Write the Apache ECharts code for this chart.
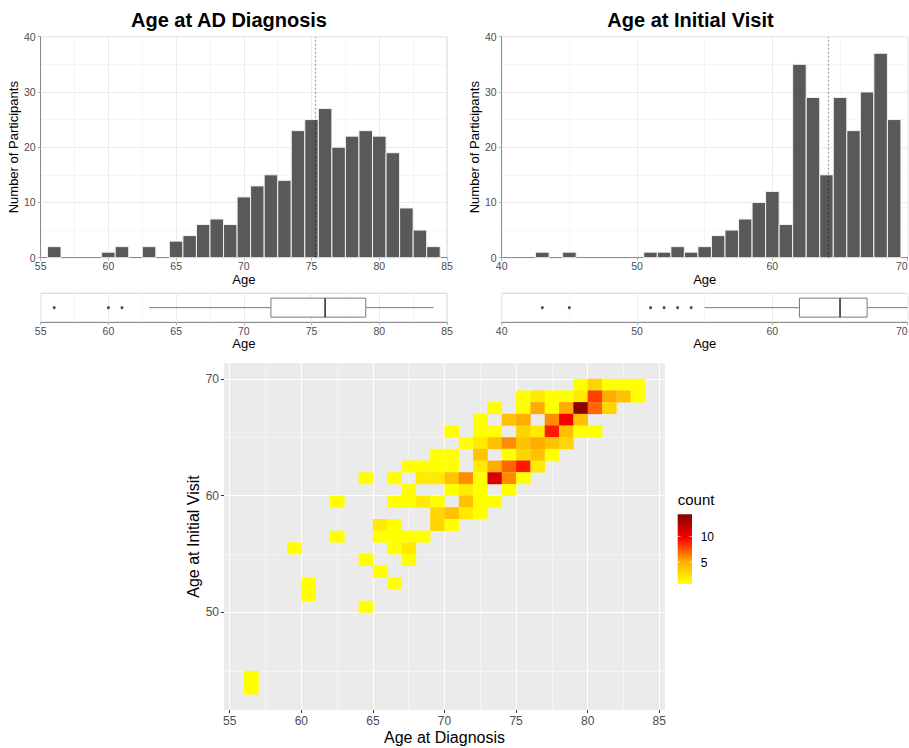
<!DOCTYPE html>
<html>
<head>
<meta charset="utf-8">
<script src="https://cdn.jsdelivr.net/npm/echarts@6/dist/echarts.min.js"></script>
<style>
  html, body { margin: 0; padding: 0; background: #ffffff; }
  #chart { width: 909px; height: 748px; }
</style>
</head>
<body>
<div id="chart"></div>
<script>
// ---- Age at AD diagnosis: 1-year histogram bins (bin centre) ----
const diagAges   = [56, 57, 58, 59, 60, 61, 62, 63, 64, 65, 66, 67, 68, 69, 70,
                    71, 72, 73, 74, 75, 76, 77, 78, 79, 80, 81, 82, 83, 84];
const diagCounts = [2, 0, 0, 0, 1, 2, 0, 2, 0, 3, 4, 6, 7, 6, 11,
                    13, 15, 14, 23, 25, 27, 20, 22, 23, 22, 19, 9, 5, 2];
const diagMean = 75.26;
const diagBox = [63, 72, 76, 79, 84];          // whisker low, Q1, median, Q3, whisker high
const diagOutliers = [56, 60, 61];

// ---- Age at initial visit ----
const visitAges   = [43, 44, 45, 46, 47, 48, 49, 50, 51, 52, 53, 54, 55, 56,
                     57, 58, 59, 60, 61, 62, 63, 64, 65, 66, 67, 68, 69];
const visitCounts = [1, 0, 1, 0, 0, 0, 0, 0, 1, 1, 2, 1, 2, 4,
                     5, 7, 10, 12, 6, 35, 29, 15, 29, 23, 30, 37, 25];
const visitMean = 64.15;
const visitBox = [55, 62, 65, 67, 70];
const visitOutliers = [43, 45, 51, 52, 53, 54];

// ---- 2-D bins: lower edge of diagnosis bin, lower edge of visit bin, count ----
const tileDiag  = [79, 80, 81, 82, 83,
                   75, 76, 77, 78, 79, 80, 81, 82, 83,
                   73, 75, 76, 77, 78, 79, 80, 81,
                   72, 74, 75, 77, 78, 79,
                   70, 72, 73, 75, 76, 77, 78, 79, 80,
                   71, 72, 73, 74, 75, 76, 77, 78,
                   69, 70, 72, 74, 75, 76, 77,
                   67, 68, 69, 70, 72, 73, 74, 75, 76,
                   64, 66, 68, 69, 70, 71, 72, 73, 74, 75,
                   67, 70, 71, 72, 74,
                   62, 66, 67, 68, 69, 71, 72, 73,
                   69, 70, 71, 72,
                   65, 66, 69, 70,
                   62, 65, 66, 67, 68,
                   59, 66, 67,
                   64, 67,
                   65,
                   60, 66,
                   60,
                   64,
                   56,
                   56];
const tileVisit = [69, 69, 69, 69, 69,
                   68, 68, 68, 68, 68, 68, 68, 68, 68,
                   67, 67, 67, 67, 67, 67, 67, 67,
                   66, 66, 66, 66, 66, 66,
                   65, 65, 65, 65, 65, 65, 65, 65, 65,
                   64, 64, 64, 64, 64, 64, 64, 64,
                   63, 63, 63, 63, 63, 63, 63,
                   62, 62, 62, 62, 62, 62, 62, 62, 62,
                   61, 61, 61, 61, 61, 61, 61, 61, 61, 61,
                   60, 60, 60, 60, 60,
                   59, 59, 59, 59, 59, 59, 59, 59,
                   58, 58, 58, 58,
                   57, 57, 57, 57,
                   56, 56, 56, 56, 56,
                   55, 55, 55,
                   54, 54,
                   53,
                   52, 52,
                   51,
                   50,
                   44,
                   43];
const tileCount = [1, 3, 1, 1, 1,
                   1, 2, 1, 1, 2, 8, 5, 4, 1,
                   1, 1, 5, 1, 5, 14, 7, 3,
                   1, 4, 5, 6, 10, 4,
                   1, 1, 1, 3, 2, 9, 4, 1, 1,
                   1, 2, 4, 6, 4, 5, 4, 3,
                   1, 1, 4, 1, 3, 4, 1,
                   1, 1, 1, 1, 2, 5, 7, 9, 2,
                   1, 1, 2, 2, 4, 6, 1, 11, 6, 1,
                   1, 1, 2, 1, 1,
                   1, 1, 1, 2, 1, 4, 1, 1,
                   3, 4, 2, 1,
                   2, 1, 3, 1,
                   1, 1, 1, 1, 1,
                   1, 1, 2,
                   1, 1,
                   1,
                   1, 1,
                   1,
                   1,
                   1,
                   1];
const binWidth = 1;

// colour scale for counts
const countRange = [1, 14];
const countTicks = [5, 10];
const heatColors = ['#FFFF00', '#FFA500', '#FF0000', '#8B0000'];

// tick values
const diagTicks  = [55, 60, 65, 70, 75, 80, 85];
const visitTicks = [50, 60, 70];
const diagMinor  = [57.5, 62.5, 67.5, 72.5, 77.5, 82.5];
const visitMinor = [45, 55, 65];

const FONT = '"Liberation Sans", Arial, Helvetica, sans-serif';
const chart = echarts.init(document.getElementById('chart'), null, { renderer: 'svg' });

function histItem(params, api) {
  const x = api.value(0), n = api.value(1);
  if (!n) return null;
  const a = api.coord([x - 0.5, n]);
  const b = api.coord([x + 0.5, 0]);
  return {
    type: 'rect',
    shape: { x: a[0], y: a[1], width: b[0] - a[0], height: b[1] - a[1] },
    style: { fill: '#595959', stroke: '#F2F2F2', lineWidth: 1 }
  };
}

const BOX_HALF = 9.5;
function boxItem(params, api) {
  const lo = api.coord([api.value(0), 0]);
  const q1 = api.coord([api.value(1), 0]);
  const md = api.coord([api.value(2), 0]);
  const q3 = api.coord([api.value(3), 0]);
  const hi = api.coord([api.value(4), 0]);
  const cy = lo[1];
  const st = { stroke: '#7A7A7A', lineWidth: 1, fill: null };
  return {
    type: 'group',
    children: [
      { type: 'line', shape: { x1: lo[0], y1: cy, x2: q1[0], y2: cy }, style: st },
      { type: 'line', shape: { x1: q3[0], y1: cy, x2: hi[0], y2: cy }, style: st },
      { type: 'rect', shape: { x: q1[0], y: cy - BOX_HALF, width: q3[0] - q1[0], height: 2 * BOX_HALF },
        style: { fill: '#FFFFFF', stroke: '#7A7A7A', lineWidth: 1 } },
      { type: 'line', shape: { x1: md[0], y1: cy - BOX_HALF, x2: md[0], y2: cy + BOX_HALF },
        style: { stroke: '#333333', lineWidth: 1.6 } }
    ]
  };
}

function tileItem(params, api) {
  const x = api.value(0), y = api.value(1);
  const a = api.coord([x, y + binWidth]);
  const b = api.coord([x + binWidth, y]);
  return {
    type: 'rect',
    shape: { x: a[0], y: a[1], width: b[0] - a[0] + 0.3, height: b[1] - a[1] + 0.3 },
    style: { fill: api.visual('color') }
  };
}

function zip(a, b) { return a.map((v, i) => [v, b[i]]); }

const tickLabel = { color: '#4D4D4D', fontSize: 10.5, fontFamily: FONT };
const lightGrid = { lineStyle: { color: '#EBEBEB', width: 1 } };
const minorGrid = { show: true, lineStyle: { color: '#F5F5F5', width: 1 } };
const axisLineDark = { show: true, onZero: false, lineStyle: { color: '#8C8C8C', width: 1 } };
const tickStyle = { show: true, length: 3, lineStyle: { color: '#B3B3B3' } };
const nameStyle = { color: '#000000', fontSize: 13, fontFamily: FONT };

// the visit panels reach the right edge of the page, so their last label is right-aligned
function histX(gridIndex, min, max, interval, gap, alignLast) {
  const label = Object.assign({ margin: 3, hideOverlap: false }, tickLabel);
  if (alignLast) label.alignMaxLabel = 'right';
  return {
    gridIndex, type: 'value', min, max, interval,
    axisLine: axisLineDark, axisTick: tickStyle,
    axisLabel: label,
    splitLine: Object.assign({ show: true }, lightGrid),
    minorTick: { show: false, splitNumber: 2 }, minorSplitLine: minorGrid,
    name: 'Age', nameLocation: 'middle', nameGap: gap, nameTextStyle: nameStyle
  };
}
function histY(gridIndex) {
  return {
    gridIndex, type: 'value', min: 0, max: 40, interval: 10,
    axisLine: axisLineDark, axisTick: tickStyle,
    axisLabel: Object.assign({ margin: 5 }, tickLabel),
    splitLine: Object.assign({ show: true }, lightGrid),
    minorTick: { show: false, splitNumber: 2 }, minorSplitLine: minorGrid,
    name: 'Number of Participants', nameLocation: 'middle', nameGap: 17, nameRotate: 90,
    nameTextStyle: nameStyle
  };
}
function boxY(gridIndex) {
  return { gridIndex, type: 'value', min: -1, max: 1, show: false, splitLine: { show: false } };
}
function meanLine(v) {
  return {
    silent: true, symbol: 'none', label: { show: false },
    lineStyle: { color: 'rgba(0,0,0,0.38)', type: [2, 2], width: 1.2 },
    data: [{ xAxis: v }]
  };
}

const heatGridLines = [].concat(
  diagTicks.map(v => ({ xAxis: v, lineStyle: { color: '#FFFFFF', width: 1.1, type: 'solid' } })),
  diagMinor.map(v => ({ xAxis: v, lineStyle: { color: '#F6F6F6', width: 0.7, type: 'solid' } })),
  visitTicks.map(v => ({ yAxis: v, lineStyle: { color: '#FFFFFF', width: 1.1, type: 'solid' } })),
  visitMinor.map(v => ({ yAxis: v, lineStyle: { color: '#F6F6F6', width: 0.7, type: 'solid' } }))
);

// colour bar geometry
const barX = 677.7, barTop = 514.3, barBottom = 584, barW = 14.3, barPad = 1.7;
function barY(v) {
  return barBottom - barPad - (v - countRange[0]) / (countRange[1] - countRange[0]) * (barBottom - barTop - 2 * barPad);
}
const barStops = heatColors.map((c, i) => {
  const v = countRange[0] + i / (heatColors.length - 1) * (countRange[1] - countRange[0]);
  return { offset: (barBottom - barY(v)) / (barBottom - barTop), color: c };
});

const legendGraphics = [
  { type: 'text', x: barX, y: 499, style: { text: 'count', font: '15px ' + FONT, fill: '#000', verticalAlign: 'middle', align: 'left' } },
  { type: 'rect', shape: { x: barX, y: barTop, width: barW, height: barBottom - barTop },
    style: { fill: new echarts.graphic.LinearGradient(0, 1, 0, 0, barStops) } }
];
countTicks.forEach(v => {
  const y = barY(v);
  legendGraphics.push(
    { type: 'line', shape: { x1: barX, y1: y, x2: barX + 2.8, y2: y }, style: { stroke: '#FFFFFF', lineWidth: 0.8, opacity: 0.8 } },
    { type: 'line', shape: { x1: barX + barW - 2.8, y1: y, x2: barX + barW, y2: y }, style: { stroke: '#FFFFFF', lineWidth: 0.8, opacity: 0.8 } },
    { type: 'text', x: 700.7, y: y + 0.8, style: { text: String(v), font: '12px ' + FONT, fill: '#000', verticalAlign: 'middle', align: 'left' } }
  );
});

const gridBase = { show: true, borderColor: '#D3D3D3', borderWidth: 1, backgroundColor: 'transparent',
                   containLabel: false, outerBoundsMode: 'none' };

const option = {
  backgroundColor: '#FFFFFF',
  animation: false,
  textStyle: { fontFamily: FONT },
  graphic: [
    { type: 'text', x: 229, y: 19.5, style: { text: 'Age at AD Diagnosis', font: 'bold 20px ' + FONT, fill: '#000', align: 'center', verticalAlign: 'middle' } },
    { type: 'text', x: 690.5, y: 19.5, style: { text: 'Age at Initial Visit', font: 'bold 20px ' + FONT, fill: '#000', align: 'center', verticalAlign: 'middle' } }
  ].concat(legendGraphics),
  grid: [
    Object.assign({ left: 40.7, top: 36.7, width: 406.3, height: 221 }, gridBase),
    Object.assign({ left: 501.7, top: 36.7, width: 406, height: 221 }, gridBase),
    Object.assign({ left: 40.7, top: 293.3, width: 406.3, height: 28.7 }, gridBase),
    Object.assign({ left: 501.7, top: 293.3, width: 406, height: 28.7 }, gridBase),
    { left: 224, top: 363, width: 441, height: 347, show: true, borderWidth: 0, backgroundColor: '#EBEBEB',
      containLabel: false, outerBoundsMode: 'none' }
  ],
  xAxis: [
    histX(0, 55, 85, 5, 15, false),
    histX(1, 40, 70, 10, 15, true),
    histX(2, 55, 85, 5, 14.5, false),
    histX(3, 40, 70, 10, 14.5, true),
    {
      gridIndex: 4, type: 'value', min: 54.6, max: 85.4,
      axisLine: { show: false },
      axisTick: { show: true, length: 3, customValues: diagTicks, lineStyle: { color: '#333333' } },
      axisLabel: { customValues: diagTicks, margin: 4.5, color: '#4D4D4D', fontSize: 12, fontFamily: FONT },
      splitLine: { show: false },
      name: 'Age at Diagnosis', nameLocation: 'middle', nameGap: 19.5,
      nameTextStyle: { color: '#000', fontSize: 16, fontFamily: FONT }
    }
  ],
  yAxis: [
    histY(0),
    histY(1),
    boxY(2),
    boxY(3),
    {
      gridIndex: 4, type: 'value', min: 41.65, max: 71.35,
      axisLine: { show: false },
      axisTick: { show: true, length: 3, customValues: visitTicks, lineStyle: { color: '#333333' } },
      axisLabel: { customValues: visitTicks, margin: 5, color: '#4D4D4D', fontSize: 12, fontFamily: FONT },
      splitLine: { show: false },
      name: 'Age at Initial Visit', nameLocation: 'middle', nameGap: 22, nameRotate: 90,
      nameTextStyle: { color: '#000', fontSize: 16, fontFamily: FONT }
    }
  ],
  visualMap: {
    show: false, type: 'continuous', seriesIndex: 6, dimension: 2,
    min: countRange[0], max: countRange[1], inRange: { color: heatColors }
  },
  series: [
    { type: 'custom', xAxisIndex: 0, yAxisIndex: 0, renderItem: histItem, encode: { x: 0, y: 1 },
      data: zip(diagAges, diagCounts), markLine: meanLine(diagMean), silent: true },
    { type: 'custom', xAxisIndex: 1, yAxisIndex: 1, renderItem: histItem, encode: { x: 0, y: 1 },
      data: zip(visitAges, visitCounts), markLine: meanLine(visitMean), silent: true },
    { type: 'custom', xAxisIndex: 2, yAxisIndex: 2, renderItem: boxItem, encode: { x: [0, 1, 2, 3, 4] },
      data: [diagBox], silent: true },
    { type: 'scatter', xAxisIndex: 2, yAxisIndex: 2, symbolSize: 3, itemStyle: { color: '#222' },
      data: diagOutliers.map(v => [v, 0]), silent: true },
    { type: 'custom', xAxisIndex: 3, yAxisIndex: 3, renderItem: boxItem, encode: { x: [0, 1, 2, 3, 4] },
      data: [visitBox], silent: true },
    { type: 'scatter', xAxisIndex: 3, yAxisIndex: 3, symbolSize: 3, itemStyle: { color: '#222' },
      data: visitOutliers.map(v => [v, 0]), silent: true },
    { type: 'custom', xAxisIndex: 4, yAxisIndex: 4, renderItem: tileItem, encode: { x: 0, y: 1 },
      data: tileDiag.map((d, i) => [d, tileVisit[i], tileCount[i]]), silent: true, z: 3,
      markLine: { z: 1, silent: true, symbol: 'none', label: { show: false }, data: heatGridLines } }
  ]
};
chart.setOption(option);
</script>
</body>
</html>
